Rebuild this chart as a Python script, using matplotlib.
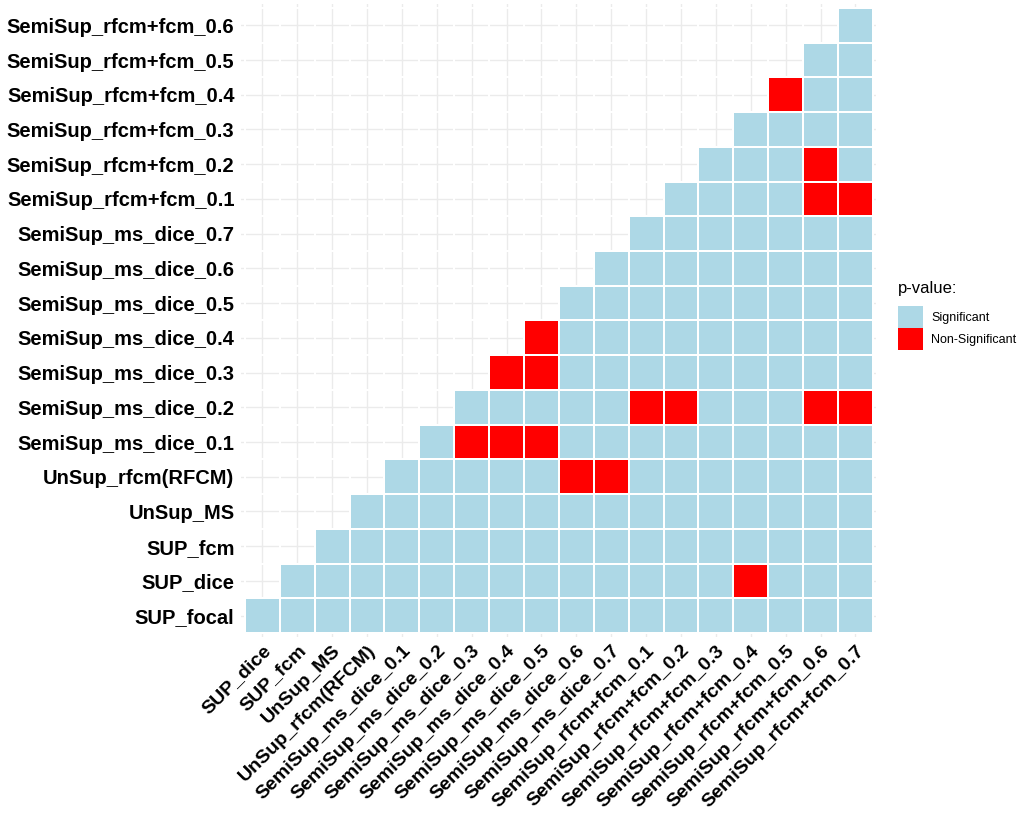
import numpy as np
import matplotlib
matplotlib.use("Agg")
import matplotlib.pyplot as plt
from matplotlib.colors import ListedColormap
from matplotlib.patches import Patch

plt.rcParams['font.family'] = ['Liberation Sans', 'DejaVu Sans']

# x-axis categories (columns)
col_labels = ["SUP_dice", "SUP_fcm", "UnSup_MS", "UnSup_rfcm(RFCM)",
              "SemiSup_ms_dice_0.1", "SemiSup_ms_dice_0.2", "SemiSup_ms_dice_0.3",
              "SemiSup_ms_dice_0.4", "SemiSup_ms_dice_0.5", "SemiSup_ms_dice_0.6",
              "SemiSup_ms_dice_0.7",
              "SemiSup_rfcm+fcm_0.1", "SemiSup_rfcm+fcm_0.2", "SemiSup_rfcm+fcm_0.3",
              "SemiSup_rfcm+fcm_0.4", "SemiSup_rfcm+fcm_0.5", "SemiSup_rfcm+fcm_0.6",
              "SemiSup_rfcm+fcm_0.7"]

# y-axis categories (rows, bottom to top)
row_labels = ["SUP_focal", "SUP_dice", "SUP_fcm", "UnSup_MS", "UnSup_rfcm(RFCM)",
              "SemiSup_ms_dice_0.1", "SemiSup_ms_dice_0.2", "SemiSup_ms_dice_0.3",
              "SemiSup_ms_dice_0.4", "SemiSup_ms_dice_0.5", "SemiSup_ms_dice_0.6",
              "SemiSup_ms_dice_0.7",
              "SemiSup_rfcm+fcm_0.1", "SemiSup_rfcm+fcm_0.2", "SemiSup_rfcm+fcm_0.3",
              "SemiSup_rfcm+fcm_0.4", "SemiSup_rfcm+fcm_0.5", "SemiSup_rfcm+fcm_0.6"]

# Non-significant comparisons (row label -> column labels)
non_significant = {
    "SUP_dice": ["SemiSup_rfcm+fcm_0.4"],
    "UnSup_rfcm(RFCM)": ["SemiSup_ms_dice_0.6", "SemiSup_ms_dice_0.7"],
    "SemiSup_ms_dice_0.1": ["SemiSup_ms_dice_0.3", "SemiSup_ms_dice_0.4", "SemiSup_ms_dice_0.5"],
    "SemiSup_ms_dice_0.2": ["SemiSup_rfcm+fcm_0.1", "SemiSup_rfcm+fcm_0.2",
                            "SemiSup_rfcm+fcm_0.6", "SemiSup_rfcm+fcm_0.7"],
    "SemiSup_ms_dice_0.3": ["SemiSup_ms_dice_0.4", "SemiSup_ms_dice_0.5"],
    "SemiSup_ms_dice_0.4": ["SemiSup_ms_dice_0.5"],
    "SemiSup_rfcm+fcm_0.1": ["SemiSup_rfcm+fcm_0.6", "SemiSup_rfcm+fcm_0.7"],
    "SemiSup_rfcm+fcm_0.2": ["SemiSup_rfcm+fcm_0.6"],
    "SemiSup_rfcm+fcm_0.4": ["SemiSup_rfcm+fcm_0.5"],
}

legend_labels = ["Significant", "Non-Significant"]
colors = ["#ADD8E6", "#FF0000"]

nr, nc = len(row_labels), len(col_labels)
M = np.full((nr, nc), np.nan)
for i, r in enumerate(row_labels):
    for j, c in enumerate(col_labels):
        if j >= i:
            M[i, j] = 1 if c in non_significant.get(r, []) else 0
M = np.ma.masked_invalid(M)

fig = plt.figure(figsize=(10.23, 8.15), dpi=100)
ax = fig.add_axes([0.236, 0.219, 0.6207, 0.7755])
ax.set_axisbelow(True)
ax.grid(True, color="#EBEBEB", linewidth=1.0, zorder=0)
xe = np.arange(nc + 1) - 0.5
ye = np.arange(nr + 1) - 0.5
ax.pcolormesh(xe, ye, M, cmap=ListedColormap(colors), vmin=0, vmax=1,
              edgecolors="white", linewidth=0.1, zorder=2)
ax.set_xlim(-0.6, nc - 0.4)
ax.set_ylim(-0.6, nr - 0.4)
ax.set_xticks(np.arange(nc))
ax.set_xticklabels(col_labels, rotation=45, ha="right", va="top",
                   rotation_mode="anchor", fontsize=14, fontweight="bold")
ax.set_yticks(np.arange(nr))
ax.set_yticklabels(row_labels, fontsize=14.5, fontweight="bold")
ax.tick_params(length=0, pad=5)
ax.tick_params(axis="x", pad=4)
for s in ax.spines.values():
    s.set_visible(False)

handles = [Patch(facecolor=c, edgecolor="none") for c in colors]
leg = fig.legend(handles, legend_labels, title="p-value:", loc="upper left",
                 bbox_to_anchor=(0.878, 0.655), frameon=False, fontsize=9,
                 title_fontsize=12, handlelength=2.0, handleheight=2.35,
                 handletextpad=0.64, labelspacing=0.0, borderaxespad=0,
                 borderpad=0)
leg._legend_box.align = "left"
leg._legend_box.sep = 7

fig.savefig("out.png", dpi=100)
